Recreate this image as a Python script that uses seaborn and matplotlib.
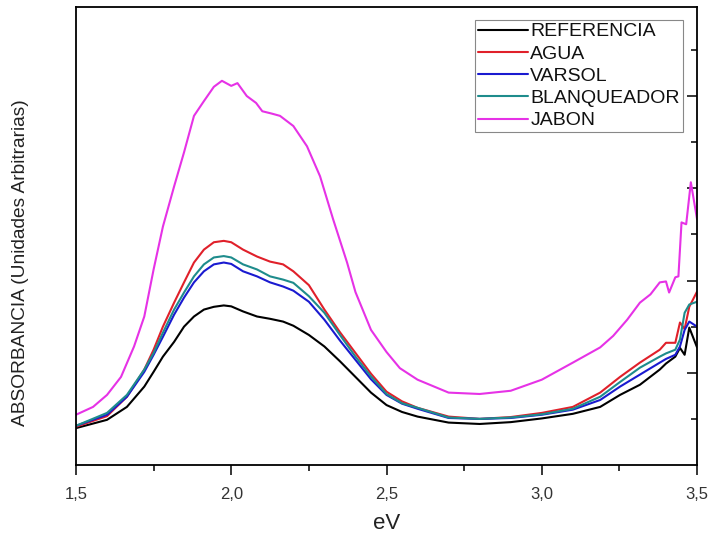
import numpy as np
import pandas as pd
import matplotlib
matplotlib.use("Agg")
import matplotlib.pyplot as plt
import seaborn as sns
from matplotlib.ticker import FixedLocator, FuncFormatter

# ---- data (arbitrary units) ----
ev = [1.50, 1.60, 1.664, 1.72, 1.75, 1.78, 1.816, 1.848, 1.88, 1.912, 1.944, 1.976,
      2.00, 2.038, 2.083, 2.125, 2.167, 2.20, 2.25, 2.30, 2.35, 2.40, 2.45, 2.50,
      2.55, 2.60, 2.70, 2.80, 2.90, 3.00, 3.10, 3.188, 3.252, 3.316, 3.38, 3.40,
      3.43, 3.445, 3.46, 3.475, 3.50]

referencia = [0.80, 0.98, 1.26, 1.70, 2.02, 2.35, 2.67, 3.00, 3.22, 3.37, 3.43, 3.46,
              3.44, 3.33, 3.22, 3.17, 3.11, 3.02, 2.82, 2.57, 2.25, 1.91, 1.57, 1.30,
              1.15, 1.05, 0.92, 0.89, 0.93, 1.01, 1.11, 1.26, 1.52, 1.74, 2.07, 2.20,
              2.35, 2.54, 2.39, 2.98, 2.55]
agua = [0.83, 1.06, 1.48, 2.07, 2.50, 3.00, 3.52, 3.96, 4.39, 4.67, 4.83, 4.86,
        4.83, 4.67, 4.52, 4.41, 4.35, 4.20, 3.90, 3.37, 2.88, 2.43, 1.98, 1.59,
        1.38, 1.24, 1.05, 1.00, 1.04, 1.13, 1.26, 1.57, 1.91, 2.22, 2.50, 2.65,
        2.65, 3.09, 2.95, 3.43, 3.76]
varsol = [0.85, 1.09, 1.48, 2.02, 2.39, 2.78, 3.26, 3.63, 3.96, 4.20, 4.35, 4.39,
          4.36, 4.20, 4.09, 3.96, 3.87, 3.78, 3.54, 3.15, 2.70, 2.28, 1.86, 1.52,
          1.33, 1.22, 1.02, 1.00, 1.02, 1.09, 1.20, 1.41, 1.70, 1.96, 2.22, 2.30,
          2.39, 2.57, 2.93, 3.11, 3.00]
blanqueador = [0.85, 1.13, 1.52, 2.07, 2.43, 2.87, 3.37, 3.74, 4.09, 4.35, 4.50, 4.53,
               4.50, 4.35, 4.24, 4.09, 4.02, 3.95, 3.66, 3.30, 2.82, 2.35, 1.92, 1.54,
               1.34, 1.24, 1.03, 1.00, 1.03, 1.10, 1.22, 1.48, 1.80, 2.11, 2.35, 2.42,
               2.50, 2.72, 3.30, 3.48, 3.54]

ev_jabon = [1.50, 1.555, 1.60, 1.645, 1.687, 1.72, 1.75, 1.78, 1.816, 1.848, 1.88,
            1.912, 1.944, 1.97, 2.00, 2.02, 2.05, 2.08, 2.10, 2.13, 2.157, 2.20,
            2.244, 2.286, 2.328, 2.373, 2.40, 2.45, 2.50, 2.543, 2.60, 2.70, 2.80,
            2.90, 3.00, 3.10, 3.188, 3.23, 3.275, 3.316, 3.35, 3.38, 3.40, 3.41,
            3.43, 3.44, 3.45, 3.465, 3.48, 3.50]
jabon = [1.09, 1.26, 1.52, 1.91, 2.57, 3.22, 4.24, 5.17, 6.04, 6.78, 7.57,
         7.89, 8.20, 8.33, 8.22, 8.28, 8.00, 7.85, 7.67, 7.62, 7.57, 7.35,
         6.91, 6.26, 5.33, 4.39, 3.75, 2.93, 2.45, 2.10, 1.85, 1.57, 1.54,
         1.61, 1.85, 2.22, 2.55, 2.80, 3.15, 3.52, 3.70, 3.96, 3.98, 3.74,
         4.07, 4.09, 5.26, 5.22, 6.13, 5.33]

series_names = ["REFERENCIA", "AGUA", "VARSOL", "BLANQUEADOR", "JABON"]
colors = ["#000000", "#e0202a", "#1a1ad0", "#1e8c8c", "#e632e6"]
x_ticks = [1.5, 2.0, 2.5, 3.0, 3.5]

frames = []
for name, vals in zip(series_names[:4], [referencia, agua, varsol, blanqueador]):
    frames.append(pd.DataFrame({"eV": ev, "abs": vals, "muestra": name}))
frames.append(pd.DataFrame({"eV": ev_jabon, "abs": jabon, "muestra": "JABON"}))
df = pd.concat(frames, ignore_index=True)

sns.set_style("ticks")
plt.rcParams["font.family"] = ["Liberation Sans", "DejaVu Sans"]

fig = plt.figure(figsize=(7.12, 5.35), dpi=100)
ax = fig.add_axes([0.1067, 0.1308, 0.8723, 0.8561])

sns.lineplot(data=df, x="eV", y="abs", hue="muestra", hue_order=series_names,
             palette=dict(zip(series_names, colors)), estimator=None, sort=True,
             linewidth=1.5, ax=ax)

ax.set_xlim(1.5, 3.5)
ax.set_ylim(0, 9.93)

for s in ax.spines.values():
    s.set_visible(True)
    s.set_linewidth(1.3)
    s.set_color("black")

ax.xaxis.set_major_locator(FixedLocator(x_ticks))
ax.xaxis.set_minor_locator(FixedLocator([1.75, 2.25, 2.75, 3.25]))
ax.xaxis.set_major_formatter(FuncFormatter(lambda v, p: f"{v:.1f}".replace(".", ",")))
ax.tick_params(axis="x", which="major", direction="out", length=7.5, width=1.3,
               labelsize=12, labelcolor="#333333", pad=8)
ax.tick_params(axis="x", which="minor", direction="out", length=4, width=1.3)
ax.tick_params(axis="x", top=False, which="both")

ax.yaxis.tick_right()
ax.yaxis.set_major_locator(FixedLocator([2, 4, 6, 8]))
ax.yaxis.set_minor_locator(FixedLocator([1, 3, 5, 7, 9]))
ax.tick_params(axis="y", which="major", direction="in", length=7.5, width=1.3,
               labelright=False, left=False, right=True)
ax.tick_params(axis="y", which="minor", direction="in", length=4, width=1.3,
               left=False, right=True)

ax.set_xlabel("eV", fontsize=16, color="#222222", labelpad=8)
ax.set_ylabel("ABSORBANCIA (Unidades Arbitrarias)", fontsize=13.8, color="#222222")
ax.yaxis.set_label_position("left")
ax.yaxis.set_label_coords(-0.075, 0.441)

leg = ax.legend(loc="upper right", bbox_to_anchor=(0.977, 0.972), fontsize=14,
                frameon=True, fancybox=False, edgecolor="#888888", framealpha=1,
                handlelength=2.6, handletextpad=0.1, labelspacing=0.24,
                borderpad=0.15, borderaxespad=0)
leg.get_frame().set_linewidth(0.8)
for t in leg.get_texts():
    t.set_color("#111111")

fig.savefig("out.png", dpi=100)
